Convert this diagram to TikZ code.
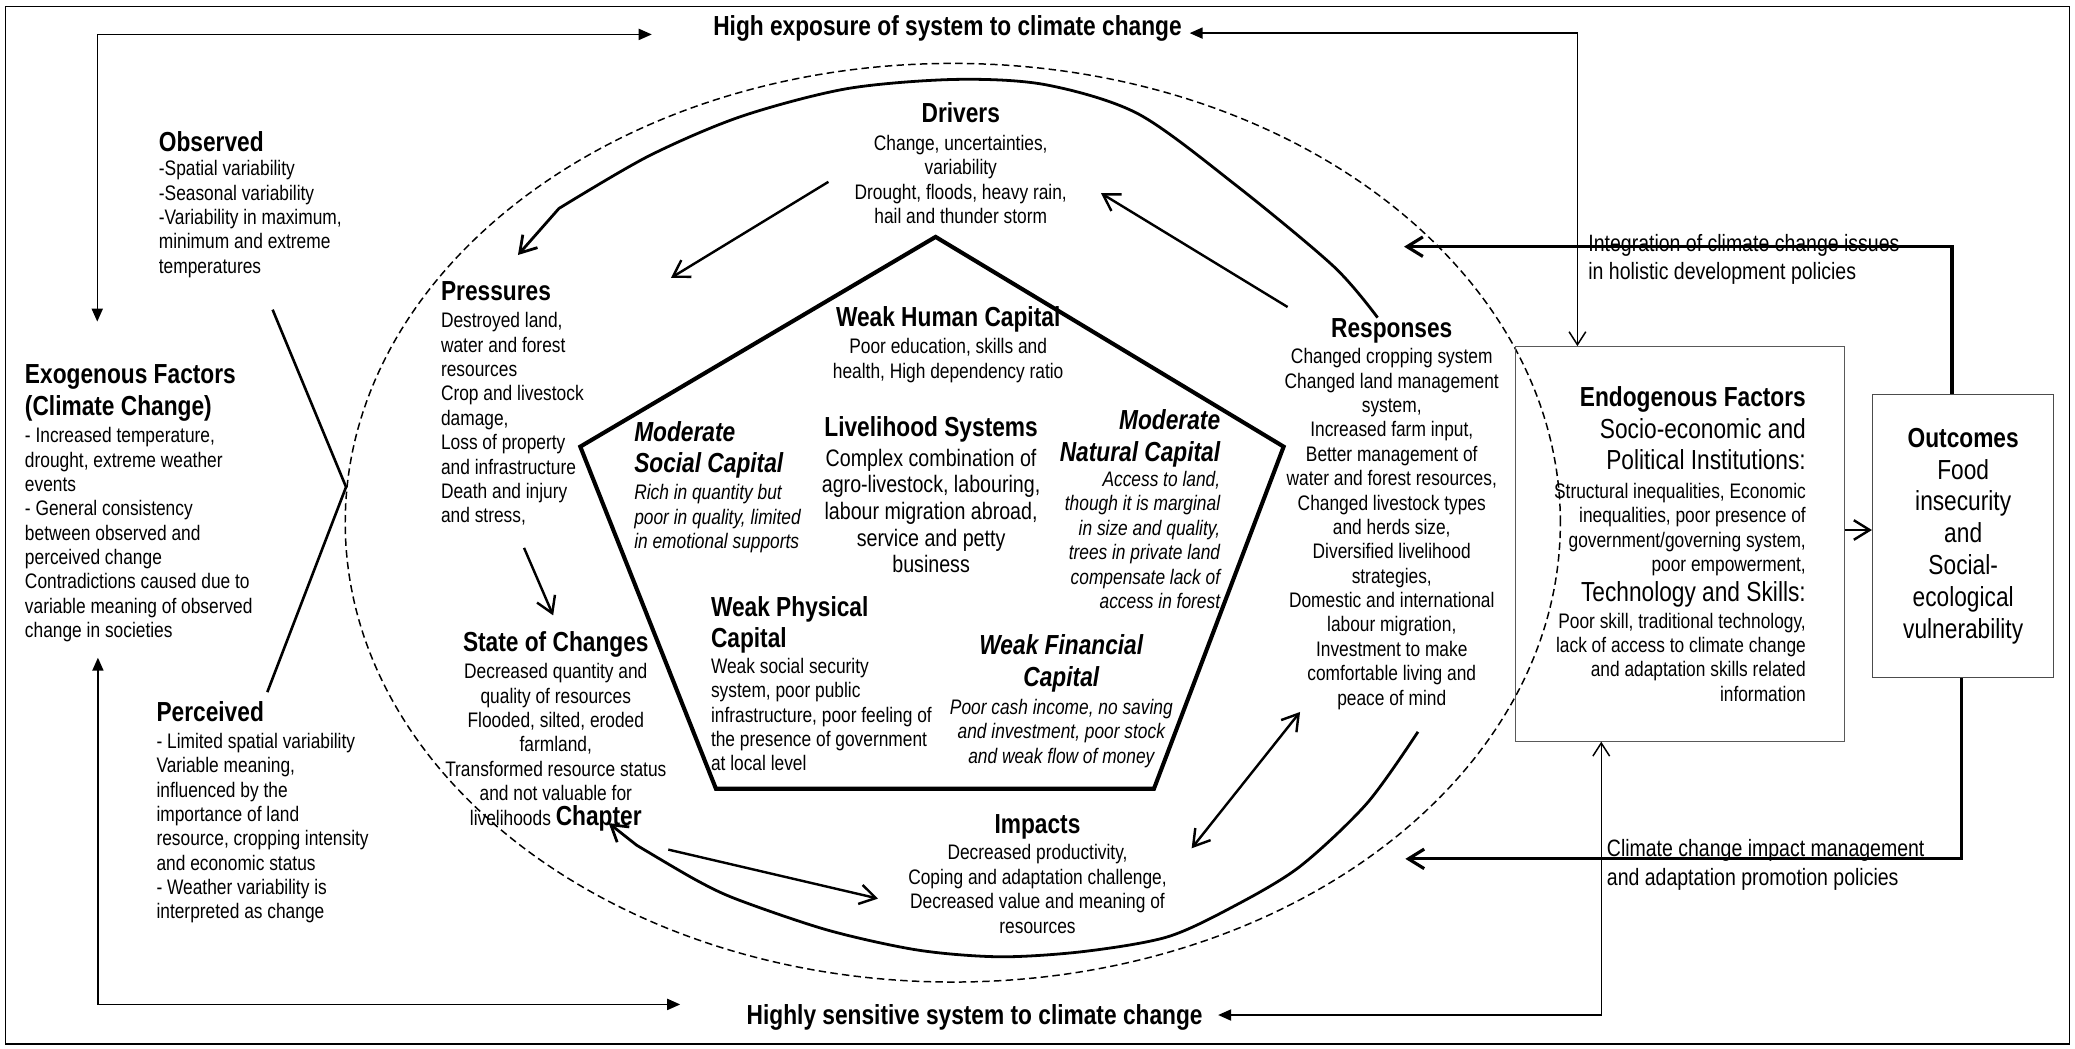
\documentclass[tikz,border=0pt]{standalone}
\usepackage{fontspec}
\setmainfont{Liberation Sans}[FakeStretch=0.825]
\usetikzlibrary{arrows.meta}
\newcommand\bodyfont{\fontsize{11.3}{13.1}\selectfont\lineskiplimit=-20pt}
\newcommand\livfont{\fontsize{12.8}{14.3}\selectfont\lineskiplimit=-20pt}
\newcommand\lblfont{\fontsize{12.7}{15.1}\selectfont\lineskiplimit=-20pt}
\newcommand\outfont{\fontsize{14.8}{17.1}\selectfont\lineskiplimit=-20pt}
\newcommand\bigtxt{\fontsize{14.8}{17}\selectfont}
\newcommand\hdr{\fontsize{14.8}{17}\selectfont\bfseries}
\begin{document}
\begin{tikzpicture}[x=0.025cm,y=-0.025cm,
  txt/.style={inner sep=0pt,font=\bodyfont},
  thead/.tip={Triangle[length=7pt,width=6pt]},
  bhead/.tip={Straight Barb[length=8.5pt,width=10.5pt]},
  vhead/.tip={Straight Barb[length=7pt,width=9pt]},
  frame/.style={line width=0.8pt},
  flow/.style={line width=1.3pt,-bhead},
  feed/.style={line width=1.7pt,-bhead},
  loopline/.style={line width=1.5pt,line join=round,-bhead}]
\useasboundingbox (0,0) rectangle (1568,792);
\draw[line width=0.8pt] (4,5) rectangle (1564,789);

% system boundary and pentagon of capitals
\draw[line width=0.8pt,dash pattern=on 4pt off 2.3pt] (720,395) ellipse [x radius=11.475cm,y radius=8.675cm];
\draw[line width=2.2pt,line join=miter] (707,179) -- (970,337.5) -- (872,596) -- (541,596) -- (438.5,337.5) -- cycle;

% titles
\node[inner sep=0pt,font=\hdr] (exposure) at (716,21.5) {High exposure of system to climate change};
\node[inner sep=0pt,font=\hdr] (sensitive) at (736.5,769) {Highly sensitive system to climate change};

% climate side
\node[txt,align=left,anchor=north west] (observed) at (119.8,99) {{\hdr Observed}\\ -Spatial variability\\ -Seasonal variability\\ -Variability in maximum,\\ minimum and extreme\\ temperatures};
\node[txt,align=left,anchor=north west] (exogenous) at (18.6,275.3) {{\hdr Exogenous Factors}\\[4pt] {\hdr (Climate Change)}\\[1.5pt] - Increased temperature,\\ drought, extreme weather\\ events\\ - General consistency\\ between observed and\\ perceived change\\ Contradictions caused due to\\ variable meaning of observed\\ change in societies};
\node[txt,align=left,anchor=north west] (perceived) at (118,529.8) {{\hdr Perceived}\\[1.3pt] - Limited spatial variability\\ Variable meaning,\\ influenced by the\\ importance of land\\ resource, cropping intensity\\ and economic status\\ - Weather variability is\\ interpreted as change};

% DPSIR cycle
\node[txt,align=center,anchor=north] (drivers) at (726,77) {{\hdr Drivers}\\[2pt] Change, uncertainties,\\ variability\\ Drought, floods, heavy rain,\\ hail and thunder storm};
\node[txt,align=left,anchor=north west] (pressures) at (333,212.8) {{\hdr Pressures}\\[1.3pt] Destroyed land,\\ water and forest\\ resources\\ Crop and livestock\\ damage,\\ Loss of property\\ and infrastructure\\ Death and injury\\ and stress,};
\node[txt,align=center,anchor=north] (states) at (420,476.6) {{\hdr State of Changes}\\[1.8pt] Decreased quantity and\\ quality of resources\\ Flooded, silted, eroded\\ farmland,\\ Transformed resource status\\ and not valuable for\\ livelihoods {\hdr Chapter}};
\node[txt,align=center,anchor=north] (impacts) at (784,615) {{\hdr Impacts}\\[1.3pt] Decreased productivity,\\ Coping and adaptation challenge,\\ Decreased value and meaning of\\ resources};
\node[txt,align=center,anchor=north] (responses) at (1051.7,240.6) {{\hdr Responses}\\[0.9pt] Changed cropping system\\ Changed land management\\ system,\\ Increased farm input,\\ Better management of\\ water and forest resources,\\ Changed livestock types\\ and herds size,\\ Diversified livelihood\\ strategies,\\ Domestic and international\\ labour migration,\\ Investment to make\\ comfortable living and\\ peace of mind};

% capitals
\node[txt,align=center,anchor=north] (human) at (716.5,231.7) {{\hdr Weak Human Capital}\\[1.3pt] Poor education, skills and\\ health, High dependency ratio};
\node[txt,font=\bodyfont\itshape,align=left,anchor=north west] (social) at (479,318) {{\hdr Moderate}\\[4pt] {\hdr Social Capital}\\[1.3pt] Rich in quantity but\\ poor in quality, limited\\ in emotional supports};
\node[inner sep=0pt,font=\livfont,align=center,anchor=north] (livelihood) at (703.6,314.4) {{\hdr Livelihood Systems}\\[1.8pt] Complex combination of\\ agro-livestock, labouring,\\ labour migration abroad,\\ service and petty\\ business};
\node[txt,font=\bodyfont\itshape,align=right,anchor=north east] (natural) at (922.3,309.3) {{\hdr Moderate}\\[4pt] {\hdr Natural Capital}\\[0.4pt] Access to land,\\ though it is marginal\\ in size and quality,\\ trees in private land\\ compensate lack of\\ access in forest};
\node[txt,align=left,anchor=north west] (physical) at (537,450.4) {{\hdr Weak Physical}\\[3.6pt] {\hdr Capital}\\[0.8pt] Weak social security\\ system, poor public\\ infrastructure, poor feeling of\\ the presence of government\\ at local level};
\node[txt,font=\bodyfont\itshape,align=center,anchor=north] (financial) at (802,479) {{\hdr Weak Financial}\\[4pt] {\hdr Capital}\\[2.2pt] Poor cash income, no saving\\ and investment, poor stock\\ and weak flow of money};

% boxes on the right
\node[txt,draw=gray!70!black,line width=0.6pt,align=right,minimum width=6.225cm,minimum height=7.45cm] (endo) at (1269.5,411) {{\hdr Endogenous Factors}\\[4pt] {\bigtxt Socio-economic and}\\[4pt] {\bigtxt Political Institutions:}\\[2.2pt] Structural inequalities, Economic\\ inequalities, poor presence of\\ government/governing system,\\ poor empowerment,\\[3pt] {\bigtxt Technology and Skills:}\\[1.3pt] Poor skill, traditional technology,\\ lack of access to climate change\\ and adaptation skills related\\ information};
\node[draw=gray!60!black,line width=0.6pt,inner sep=0pt,minimum width=3.425cm,minimum height=5.35cm,align=center,font=\outfont] (outc) at (1483.5,405) {{\bfseries Outcomes}\\ Food\\ insecurity\\ and\\ Social-\\ ecological\\ vulnerability};
\node[inner sep=0pt,font=\lblfont,align=left,anchor=north west] (integ) at (1200,176.8) {Integration of climate change issues\\ in holistic development policies};
\node[inner sep=0pt,font=\lblfont,align=left,anchor=north west] (mgmt) at (1214,634.3) {Climate change impact management\\ and adaptation promotion policies};

% arrow ends
\coordinate (tlA) at (73.5,243);  \coordinate (tlB) at (492.5,26);
\coordinate (trA) at (899,25);    \coordinate (trB) at (1192,25);
\coordinate (blA) at (74,497);    \coordinate (blB) at (514,759);
\coordinate (brA) at (1210,767);  \coordinate (brB) at (920.5,767);
\coordinate (fbt) at (1475,186.4); \coordinate (fbtE) at (1061,186.4);
\coordinate (fbb) at (1482,649);   \coordinate (fbbE) at (1062,649);
\coordinate (eo) at (1400,400.5);
\coordinate (chvA) at (206,234); \coordinate (chvB) at (261.5,368); \coordinate (chvC) at (202,523);
\coordinate (drvout) at (626,137.4); \coordinate (presin) at (507,210);
\coordinate (rspout) at (973,232);   \coordinate (drvin) at (832,146);
\coordinate (presout) at (396,414);  \coordinate (statein) at (418,465);
\coordinate (stateout) at (505,642); \coordinate (impin) at (663.5,679);
\coordinate (impio) at (900.5,641);  \coordinate (rspio) at (982.4,538);
\coordinate (uplA) at (1041,240);    \coordinate (uplB) at (391.4,192.7);
\coordinate (lowA) at (1071.5,553);  \coordinate (lowB) at (460,622);

% outer links
\draw[frame,thead-thead] (tlA) |- (tlB);
\draw[frame,thead-vhead] (trA) -- (trB) -- (trB |- endo.north);
\draw[frame,thead-thead] (blA) |- (blB);
\draw[frame,vhead-thead] (brA |- endo.south) -- (brA) -- (brB);
\draw[feed] (outc.north -| fbt) -- (fbt) -- (fbtE);
\draw[feed] (outc.south -| fbb) -- (fbb) -- (fbbE);
\draw[flow] (endo.east |- eo) -- (outc.west |- eo);
\draw[line width=1.4pt] (chvA) -- (chvB) -- (chvC);

% cycle arrows
\draw[flow] (drvout) -- (presin);
\draw[flow] (rspout) -- (drvin);
\draw[flow] (presout) -- (statein);
\draw[flow] (stateout) -- (impin);
\draw[flow,bhead-bhead] (impio) -- (rspio);
\draw[loopline] plot[smooth,tension=0.5] coordinates {(uplA) (1008,201.5) (934,140) (860,86) (790,64) (722,60) (640,67) (560,88) (490,118) (422.4,157.5)} -- (uplB);
\draw[loopline] plot[smooth,tension=0.5] coordinates {(lowA) (1033,607) (982,655) (932,685) (882,708) (819,719) (756,723) (694,718) (626,703) (558,680) (526,665) (481,638.6)} -- (lowB);
\end{tikzpicture}
\end{document}
